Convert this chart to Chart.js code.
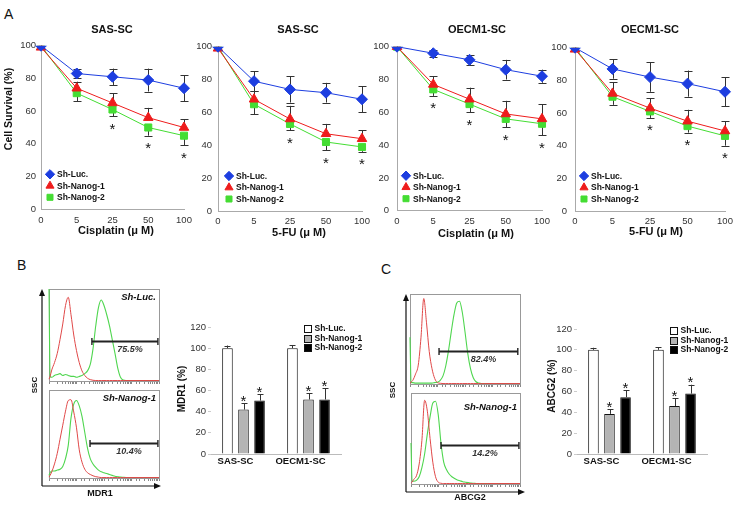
<!DOCTYPE html>
<html><head><meta charset="utf-8">
<script src="https://cdn.jsdelivr.net/npm/chart.js@4.4.1/dist/chart.umd.min.js"></script>
<style>
html,body{margin:0;padding:0;background:#fff;}
body{width:740px;height:509px;position:relative;overflow:hidden;}
canvas{position:absolute;}
.pl{position:absolute;font:14px "Liberation Sans",Arial,sans-serif;line-height:14px;color:#111;}
</style></head><body>
<div class="pl" style="left:4px;top:7px">A</div>
<div class="pl" style="left:17px;top:258px">B</div>
<div class="pl" style="left:381px;top:262px">C</div>
<script>
// ---------- DATA ----------
const doses = ['0','5','25','50','100'];
const groups = ['Sh-Luc.','Sh-Nanog-1','Sh-Nanog-2'];

const sasCisLuc=[100,83,81,79,74], sasCisLucErr=[0,3,5,7,8];
const sasCisN1=[99,74,65,56,50],  sasCisN1Err=[0,4,6,6,5];
const sasCisN2=[100,71,61,50,45], sasCisN2Err=[0,5,4,5,6];
const sasCisSig=[0,0,1,1,1];

const sasFuLuc=[100,79,74,72,68], sasFuLucErr=[0,6,8,6,8];
const sasFuN1=[99,68,56,47,44],  sasFuN1Err=[0,5,8,6,5];
const sasFuN2=[100,65,53,42,39], sasFuN2Err=[0,6,4,5,3];
const sasFuSig=[0,0,1,1,1];

const oecCisLuc=[100,96,92,86,82], oecCisLucErr=[0,2,3,6,4];
const oecCisN1=[100,77,68,59,56],  oecCisN1Err=[0,5,7,8,9];
const oecCisN2=[100,74,65,56,53],  oecCisN2Err=[0,4,5,5,7];
const oecCisSig=[0,1,1,1,1];

const oecFuLuc=[100,87,82,78,73], oecFuLucErr=[0,6,9,8,9];
const oecFuN1=[99,72,63,55,49],  oecFuN1Err=[0,7,6,7,6];
const oecFuN2=[100,70,61,52,46], oecFuN2Err=[0,5,4,4,6];
const oecFuSig=[0,0,1,1,1];

const cellLines=['SAS-SC','OECM1-SC'];
const mdr1Luc=[100,100],   mdr1LucErr=[2.5,3];
const mdr1N1=[42,51.5],    mdr1N1Err=[6,6];
const mdr1N2=[50.5,51.5],  mdr1N2Err=[6,10.5];
const abcg2Luc=[100,100],  abcg2LucErr=[2,2.5];
const abcg2N1=[38.5,46],   abcg2N1Err=[4.5,7.5];
const abcg2N2=[54.5,58],   abcg2N2Err=[6.5,8.5];
const barSig=[1,1];

const flowBins=[0,1,2.5,5,7.5,10,12.5,15,17.5,20,22.5,25,27.5,30,32.5,35,37.5,40,42.5,45,47.5,50,52.5,55,57.5,60,62.5,65,67.5,70,80,90,100];
const mdr1LucRed=[2,5,12,20,30,45,62,82,91,72,50,33,20,11,6,3,1.5,0.8,0.5,0.5,0.5,0.5,0.5,0.5,0.5,0.5,0.5,0.5,0.5,0.5,0.5,0.5,0.5];
const mdr1LucGreen=[100,5,4,6,7,8,6,7,6,5,5,4,5,6,8,11,18,35,60,80,88,82,72,60,45,30,14,4,1,0.5,0.5,0.5,0.5];
const mdr1NanogRed=[1,3,7,16,28,44,60,76,88,89,75,57,32,18,10,6,4,2.5,1.5,1,0.5,0.5,0.5,0.5,0.5,0.5,0.5,0.5,0.5,0.5,0.5,0.5,0.5];
const mdr1NanogGreen=[3,6,8,8,9,10,13,22,37,68,84,88,82,70,52,34,22,16,12,9,7,6,5,4,3,2,1.5,1,0.8,0.6,0.5,0.5,0.5];
const abcg2LucRed=[1,2,4,11,21,52,95,68,36,17,6,1.5,0.8,0.5,0.5,0.5,0.5,0.5,0.5,0.5,0.5,0.5,0.5,0.5,0.5,0.5,0.5,0.5,0.5,0.5,0.5,0.5,0.5];
const abcg2LucGreen=[52,2,1.5,1,1,1,1,1,1,1,1.5,2,4,9,20,37,58,77,90,92,80,58,34,17,7,2.5,1,0.5,0.5,0.5,0.5,0.5,0.5];
const abcg2NanogRed=[1,2,5,9,22,48,92,80,50,24,8,2,0.8,0.5,0.5,0.5,0.5,0.5,0.5,0.5,0.5,0.5,0.5,0.5,0.5,0.5,0.5,0.5,0.5,0.5,0.5,0.5,0.5];
const abcg2NanogGreen=[45,3,3,4,8,18,33,55,74,89,91,76,45,24,16,11,8,6,4.5,3.5,2.5,2,1.5,1,0.8,0.6,0.5,0.5,0.5,0.5,0.5,0.5,0.5];
const mdr1Gates=[[39,99,43],[37.3,99,39.4]];
const mdr1Pct=['75.5%','10.4%'];
const abcg2Gates=[[26.4,98,37],[27.5,99,43]];
const abcg2Pct=['82.4%','14.2%'];

// ---------- STYLE / HELPERS ----------
const FONT='Arial, "Liberation Sans", sans-serif';
Chart.defaults.font.family=FONT;
Chart.defaults.animation=false;
const BLUE='#1d3ee0', RED='#ee1c1c', GREEN='#44dd33';
const RED_F='#e04848', GREEN_F='#4fd64f';

function mkCanvas(x,y,w,h){const c=document.createElement('canvas');c.width=w;c.height=h;c.style.left=x+'px';c.style.top=y+'px';c.style.width=w+'px';c.style.height=h+'px';document.body.appendChild(c);return c;}

function errPlugin(after){
  const draw=(chart)=>{
    const ctx=chart.ctx, ys=chart.scales.y;
    chart.data.datasets.forEach((ds,i)=>{
      if(!ds.err) return;
      const meta=chart.getDatasetMeta(i);
      meta.data.forEach((el,j)=>{
        const e=ds.err[j]; if(!e) return;
        const v=ds.data[j];
        const up=ds.errDir>=0?ys.getPixelForValue(v+e):ys.getPixelForValue(v);
        const dn=ds.errDir<=0?ys.getPixelForValue(v-e):ys.getPixelForValue(v);
        const x=Math.round(el.x)+0.5, cw=ds.capW||4;
        ctx.save();ctx.strokeStyle='#333';ctx.lineWidth=1;ctx.beginPath();
        ctx.moveTo(x,up);ctx.lineTo(x,dn);
        if(ds.errDir>=0){ctx.moveTo(x-cw,Math.round(up)+0.5);ctx.lineTo(x+cw,Math.round(up)+0.5);}
        if(ds.errDir<=0){ctx.moveTo(x-cw,Math.round(dn)+0.5);ctx.lineTo(x+cw,Math.round(dn)+0.5);}
        ctx.stroke();ctx.restore();
      });
    });
  };
  return after?{id:'errA',afterDatasetsDraw:draw}:{id:'errB',beforeDatasetsDraw:draw};
}

const starPlugin={id:'stars',afterDatasetsDraw(chart){
  const ctx=chart.ctx, ys=chart.scales.y;
  chart.data.datasets.forEach((ds,i)=>{
    if(!ds.sig) return;
    const meta=chart.getDatasetMeta(i);
    meta.data.forEach((el,j)=>{
      if(!ds.sig[j]) return;
      const v=ds.data[j], e=ds.err?ds.err[j]:0;
      const cy=ds.errDir<0?ys.getPixelForValue(v-e)+9:ys.getPixelForValue(v+e)-6;
      const size=15;
      ctx.save();ctx.font=size+'px '+FONT;ctx.fillStyle='#111';ctx.textAlign='center';ctx.textBaseline='alphabetic';
      ctx.fillText('*',el.x,cy+0.57*size);ctx.restore();
    });
  });
}};

function textPlugin(items,ox,oy){return {id:'txt',afterDraw(chart){
  const ctx=chart.ctx;
  items.forEach(it=>{ctx.save();ctx.font=it.f;ctx.fillStyle=it.c||'#111';ctx.textAlign=it.a||'center';ctx.textBaseline='middle';
    ctx.translate(it.x-ox,it.y-oy);if(it.r)ctx.rotate(it.r);ctx.fillText(it.t,0,0);ctx.restore();});
}};}

function lineLegend(dx){return {id:'lleg',afterDraw(chart){
  const ctx=chart.ctx,a=chart.chartArea,offs=[35,23.5,12];
  chart.data.datasets.forEach((ds,i)=>{
    const x=a.left+dx,y=a.bottom-offs[i];
    ctx.save();ctx.fillStyle=ds.backgroundColor;ctx.strokeStyle=ds.borderColor;ctx.lineWidth=1;
    Chart.helpers.drawPoint(ctx,{pointStyle:ds.pointStyle,radius:ds.pointRadius*0.85,borderWidth:1,rotation:0},x,y);
    ctx.fillStyle='#111';ctx.font='bold 8.5px '+FONT;ctx.textAlign='left';ctx.textBaseline='middle';
    ctx.fillText(ds.label,x+7,y+0.5);ctx.restore();
  });
}};}

function lineChart(pos,s){
  const cv=mkCanvas(pos.x,pos.y,pos.w,pos.h);
  const ds=[
    {label:groups[0],data:s.luc,err:s.lucErr,errDir:0,borderColor:BLUE,backgroundColor:BLUE,pointStyle:'rectRot',pointRadius:5.5,pointBorderWidth:1,borderWidth:1},
    {label:groups[1],data:s.n1,err:s.n1Err,errDir:1,borderColor:RED,backgroundColor:RED,pointStyle:'triangle',pointRadius:5.5,pointBorderWidth:1,borderWidth:1},
    {label:groups[2],data:s.n2,err:s.n2Err,errDir:-1,sig:s.sig,borderColor:GREEN,backgroundColor:GREEN,pointStyle:'rect',pointRadius:5,pointBorderWidth:1,borderWidth:1}
  ];
  const texts=[
    {t:s.title,x:s.titleX,y:30,f:'bold 11px '+FONT},
    {t:s.xTitle,x:s.xTitleX,y:s.xTitleY,f:'bold 11px '+FONT}
  ];
  if(s.yTitle) texts.push({t:s.yTitle,x:9,y:109,f:'bold 10.5px '+FONT,r:-Math.PI/2});
  new Chart(cv,{type:'line',data:{labels:doses,datasets:ds},options:{
    responsive:false,animation:false,
    layout:{padding:{left:0,right:s.padR,top:s.padT,bottom:0}},
    plugins:{legend:{display:false},tooltip:{enabled:false}},
    scales:{
      x:{grid:{display:false,drawTicks:false,tickLength:0},border:{color:'#aaa'},ticks:{color:'#333',font:{size:9.5},padding:5,autoSkip:false,maxRotation:0},
         afterFit(sc){sc.height=s.xH;sc.paddingLeft=0;sc.paddingRight=0;}},
      y:{min:0,max:100,grid:{display:false,drawTicks:false,tickLength:0},border:{color:'#aaa'},ticks:{stepSize:20,color:'#333',font:{size:9.5},padding:s.yPad},
         afterFit(sc){sc.width=s.yW;sc.paddingTop=0;sc.paddingBottom=0;}}
    }},
    plugins:[errPlugin(false),starPlugin,lineLegend(s.legDx),textPlugin(texts,pos.x,pos.y)]});
}

function barLegend(){return {id:'bleg',afterDraw(chart){
  const ctx=chart.ctx,a=chart.chartArea,rows=[1.5,11,20.5];
  chart.data.datasets.forEach((ds,i)=>{
    const x=Math.round(a.right-37)+0.5,y=a.top+rows[i];
    ctx.save();ctx.fillStyle=ds.backgroundColor;ctx.strokeStyle='#111';ctx.lineWidth=1;
    ctx.fillRect(x,Math.round(y-3.5)+0.5,7,7);ctx.strokeRect(x,Math.round(y-3.5)+0.5,7,7);
    ctx.fillStyle='#111';ctx.font='bold 8.5px '+FONT;ctx.textAlign='left';ctx.textBaseline='middle';
    ctx.fillText(ds.label,x+10,y+0.5);ctx.restore();
  });
}};}

function barChart(pos,s){
  const cv=mkCanvas(pos.x,pos.y,pos.w,pos.h);
  const common={borderColor:'#111',borderWidth:1,errDir:1,capW:3,categoryPercentage:0.74,barPercentage:0.66};
  const ds=[
    Object.assign({label:groups[0],data:s.luc,err:s.lucErr,backgroundColor:'#ffffff'},common),
    Object.assign({label:groups[1],data:s.n1,err:s.n1Err,sig:barSig,backgroundColor:'#b4b4b4'},common),
    Object.assign({label:groups[2],data:s.n2,err:s.n2Err,sig:barSig,backgroundColor:'#000000'},common)
  ];
  const texts=[{t:s.yTitle,x:s.yTitleX,y:s.yTitleY,f:'bold 10px '+FONT,r:-Math.PI/2}];
  new Chart(cv,{type:'bar',data:{labels:cellLines,datasets:ds},options:{
    responsive:false,animation:false,
    layout:{padding:{left:0,right:s.padR,top:s.padT,bottom:0}},
    plugins:{legend:{display:false},tooltip:{enabled:false}},
    scales:{
      x:{grid:{display:false,drawTicks:false,tickLength:0},border:{color:'#bbb'},ticks:{color:'#111',font:{size:9.5,weight:'bold'},padding:2,labelOffset:-8},
         afterFit(sc){sc.height=s.xH;sc.paddingLeft=0;sc.paddingRight=0;}},
      y:{min:0,max:120,border:{display:false},grid:{drawOnChartArea:false,tickLength:3,color:'#ccc'},ticks:{stepSize:20,color:'#333',font:{size:9.5},padding:2},
         afterFit(sc){sc.width=s.yW;sc.paddingTop=0;sc.paddingBottom=0;}}
    }},
    plugins:[errPlugin(true),starPlugin,barLegend(),textPlugin(texts,pos.x,pos.y)]});
}

function arrow(ctx,x1,y1,x2,y2){
  const ang=Math.atan2(y2-y1,x2-x1),L=7,W=3;
  ctx.beginPath();ctx.moveTo(x1,y1);ctx.lineTo(x2-L*Math.cos(ang),y2-L*Math.sin(ang));ctx.stroke();
  ctx.beginPath();ctx.moveTo(x2,y2);
  ctx.lineTo(x2-L*Math.cos(ang)+W*Math.sin(ang),y2-L*Math.sin(ang)-W*Math.cos(ang));
  ctx.lineTo(x2-L*Math.cos(ang)-W*Math.sin(ang),y2-L*Math.sin(ang)+W*Math.cos(ang));
  ctx.closePath();ctx.fill();
}

function flowPlugin(o,ox,oy){return {id:'flow',
  beforeDatasetsDraw(chart){
    const ctx=chart.ctx,a=chart.chartArea;
    ctx.save();ctx.strokeStyle='#999';ctx.lineWidth=1;
    ctx.strokeRect(Math.round(a.left)+0.5,Math.round(a.top)+0.5,Math.round(a.right-a.left),Math.round(a.bottom-a.top));
    ctx.restore();
  },
  afterDraw(chart){
  const ctx=chart.ctx,a=chart.chartArea,xs=chart.scales.x,ys=chart.scales.y;
  ctx.save();
  const g=o.gate,x1=xs.getPixelForValue(g[0]),x2=xs.getPixelForValue(g[1]),gy=Math.round(ys.getPixelForValue(g[2]))+0.5;
  ctx.strokeStyle='#222';ctx.lineWidth=1.8;ctx.beginPath();ctx.moveTo(x1,gy);ctx.lineTo(x2,gy);ctx.stroke();
  ctx.lineWidth=1.4;ctx.beginPath();ctx.moveTo(x1,gy-3.5);ctx.lineTo(x1,gy+3.5);ctx.moveTo(x2,gy-3.5);ctx.lineTo(x2,gy+3.5);ctx.stroke();
  ctx.fillStyle='#333';ctx.font='italic bold 9px '+FONT;ctx.textAlign='center';ctx.textBaseline='middle';
  ctx.fillText(o.pct,(x1+x2)/2+5,gy+8);
  if(o.sample){ctx.textAlign='right';ctx.font='italic bold 9.5px '+FONT;ctx.fillStyle='#111';ctx.fillText(o.sample,a.right-3,a.top+o.sdy);}
  if(o.frame){const f=o.frame;ctx.strokeStyle='#111';ctx.fillStyle='#111';ctx.lineWidth=1.2;
    arrow(ctx,f.ax-ox,f.by-oy,f.ax-ox,f.top-oy);
    arrow(ctx,f.ax-ox,f.by-oy,f.right-ox,f.by-oy);}
  ctx.restore();
}};}

function flowChart(pos,pad,red,green,o){
  const cv=mkCanvas(pos.x,pos.y,pos.w,pos.h);
  const pts=arr=>flowBins.map((b,i)=>({x:b,y:arr[i]}));
  new Chart(cv,{type:'line',data:{datasets:[
    {data:pts(red),borderColor:RED_F,borderWidth:1,pointRadius:0,cubicInterpolationMode:'monotone',xAxisID:'x',yAxisID:'y',clip:2},
    {data:pts(green),borderColor:GREEN_F,borderWidth:1.1,pointRadius:0,cubicInterpolationMode:'monotone',xAxisID:'x',yAxisID:'y',clip:2}
  ]},options:{responsive:false,animation:false,layout:{padding:pad},
    plugins:{legend:{display:false},tooltip:{enabled:false}},
    scales:{
      x:{type:'linear',display:false,min:0,max:100},
      y:{display:false,min:0,max:100},
      xl:{type:'logarithmic',position:'bottom',min:1,max:10000,ticks:{display:false},grid:{drawOnChartArea:false,tickLength:3,color:'#888'},border:{display:false},
          afterFit(sc){sc.height=0;sc.paddingLeft=0;sc.paddingRight=0;}}
    }},
    plugins:[flowPlugin(o,pos.x,pos.y),textPlugin(o.texts||[],pos.x,pos.y)]});
}

// ---------- PANEL A ----------
lineChart({x:0,y:0,w:196,h:245},{luc:sasCisLuc,lucErr:sasCisLucErr,n1:sasCisN1,n1Err:sasCisN1Err,n2:sasCisN2,n2Err:sasCisN2Err,sig:sasCisSig,
  yW:41,padR:12,padT:45.7,xH:35.7,yPad:5,legDx:9,title:'SAS-SC',titleX:112,xTitle:'Cisplatin (\u03bc M)',xTitleX:116,xTitleY:231,yTitle:'Cell Survival (%)'});
lineChart({x:185,y:0,w:190,h:245},{luc:sasFuLuc,lucErr:sasFuLucErr,n1:sasFuN1,n1Err:sasFuN1Err,n2:sasFuN2,n2Err:sasFuN2Err,sig:sasFuSig,
  yW:33,padR:13,padT:46.7,xH:34,yPad:6,legDx:11,title:'SAS-SC',titleX:298,xTitle:'5-FU (\u03bc M)',xTitleX:299,xTitleY:233});
lineChart({x:365,y:0,w:192,h:245},{luc:oecCisLuc,lucErr:oecCisLucErr,n1:oecCisN1,n1Err:oecCisN1Err,n2:oecCisN2,n2Err:oecCisN2Err,sig:oecCisSig,
  yW:32,padR:15,padT:46.7,xH:34.3,yPad:8,legDx:9,title:'OECM1-SC',titleX:477,xTitle:'Cisplatin (\u03bc M)',xTitleX:476,xTitleY:234});
lineChart({x:545,y:0,w:195,h:245},{luc:oecFuLuc,lucErr:oecFuLucErr,n1:oecFuN1,n1Err:oecFuN1Err,n2:oecFuN2,n2Err:oecFuN2Err,sig:oecFuSig,
  yW:30,padR:15,padT:47.7,xH:34,yPad:8,legDx:9,title:'OECM1-SC',titleX:650,xTitle:'5-FU (\u03bc M)',xTitleX:656,xTitleY:232});

// ---------- PANEL B ----------
flowChart({x:25,y:283,w:145,h:222},{left:24,right:11,top:107,bottom:27},mdr1NanogRed,mdr1NanogGreen,
  {gate:mdr1Gates[1],pct:mdr1Pct[1],sample:groups[1],sdy:8,frame:{ax:42,top:289,by:486,right:161},
   texts:[{t:'SSC',x:35,y:385,f:'bold 8px '+FONT,r:-Math.PI/2},{t:'MDR1',x:100,y:494,f:'bold 9px '+FONT}]});
flowChart({x:44,y:284,w:120,h:102},{left:5,right:5,top:5,bottom:5},mdr1LucRed,mdr1LucGreen,
  {gate:mdr1Gates[0],pct:mdr1Pct[0],sample:groups[0],sdy:8});
barChart({x:170,y:315,w:200,h:160},{luc:mdr1Luc,lucErr:mdr1LucErr,n1:mdr1N1,n1Err:mdr1N1Err,n2:mdr1N2,n2Err:mdr1N2Err,
  yW:41,padR:29,padT:12,xH:21,yTitle:'MDR1 (%)',yTitleX:182,yTitleY:389});

// ---------- PANEL C ----------
flowChart({x:385,y:285,w:145,h:222},{left:26,right:10,top:108,bottom:23},abcg2NanogRed,abcg2NanogGreen,
  {gate:abcg2Gates[1],pct:abcg2Pct[1],sample:groups[1],sdy:14,frame:{ax:406,top:294,by:492,right:525},
   texts:[{t:'SSC',x:393,y:390,f:'bold 8px '+FONT,r:-Math.PI/2},{t:'ABCG2',x:470,y:498,f:'bold 9px '+FONT}]});
flowChart({x:405,y:289,w:120,h:100},{left:5,right:5,top:5,bottom:5},abcg2LucRed,abcg2LucGreen,
  {gate:abcg2Gates[0],pct:abcg2Pct[0],sample:'',sdy:8});
barChart({x:540,y:315,w:200,h:160},{luc:abcg2Luc,lucErr:abcg2LucErr,n1:abcg2N1,n1Err:abcg2N1Err,n2:abcg2N2,n2Err:abcg2N2Err,
  yW:37,padR:33,padT:14,xH:21,yTitle:'ABCG2 (%)',yTitleX:552,yTitleY:386});
</script>
</body></html>
